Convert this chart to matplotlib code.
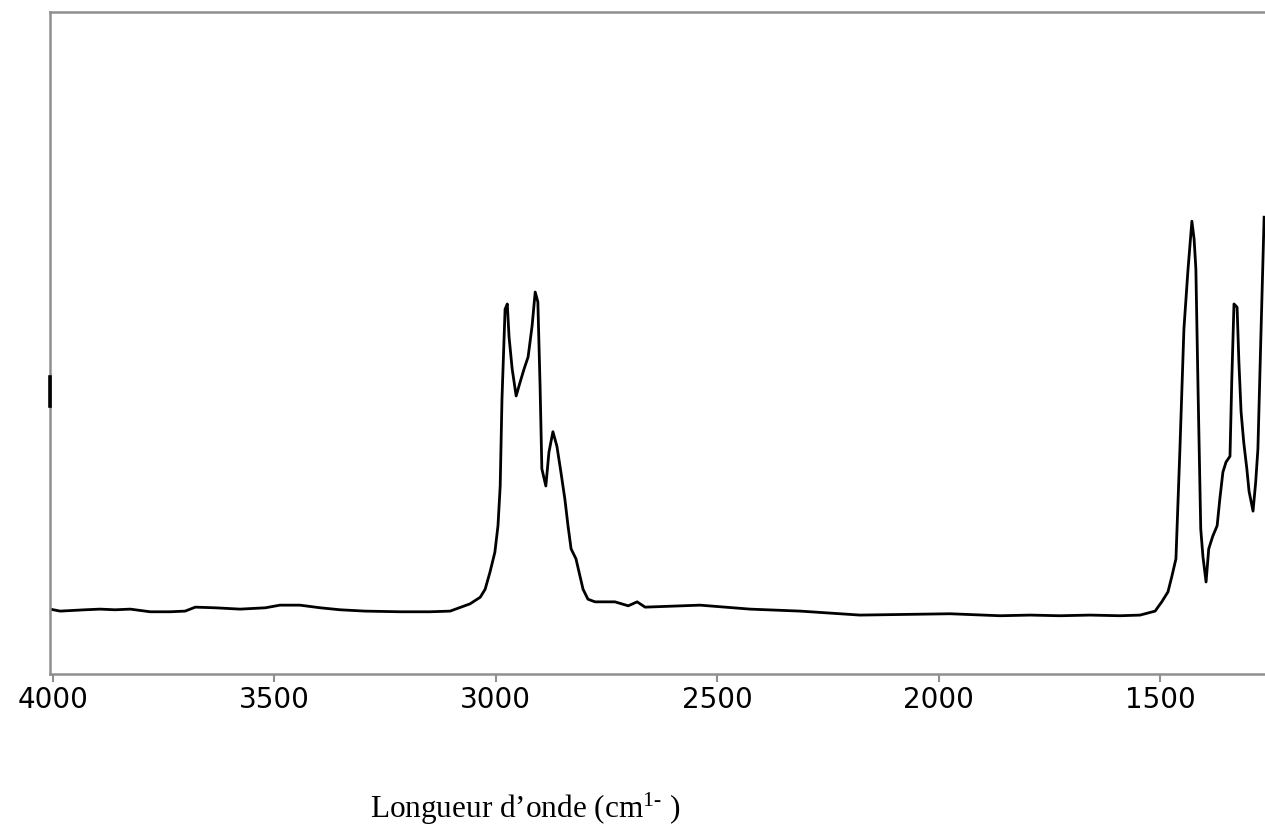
import matplotlib
matplotlib.use("Agg")
import matplotlib.pyplot as plt

plt.rcParams["mathtext.fontset"] = "custom"
plt.rcParams["mathtext.rm"] = "Liberation Serif"
plt.rcParams["mathtext.it"] = "Liberation Serif:italic"

# wavenumber (cm-1) and absorbance (arbitrary units, 0-100)
wavenumber = [4006, 3983, 3927, 3893, 3859, 3825, 3780, 3735, 3701, 3678,
              3633, 3577, 3520, 3487, 3442, 3396, 3351, 3295, 3216, 3148,
              3103, 3058, 3035, 3024, 3013, 3002, 2995, 2990, 2986, 2979,
              2974, 2970, 2963, 2954, 2945, 2936, 2927, 2918, 2911, 2905,
              2900, 2896, 2887, 2880, 2871, 2862, 2853, 2844, 2837, 2830,
              2819, 2810, 2803, 2792, 2776, 2731, 2701, 2681, 2663, 2539,
              2426, 2313, 2178, 1975, 1862, 1794, 1727, 1659, 1591, 1546,
              1512, 1497, 1483, 1474, 1465, 1456, 1447, 1438, 1429, 1424,
              1420, 1415, 1409, 1404, 1397, 1391, 1382, 1372, 1366, 1359,
              1352, 1343, 1339, 1334, 1327, 1323, 1318, 1312, 1305, 1300,
              1291, 1285, 1280, 1273, 1266]
absorbance = [9.8, 9.5, 9.7, 9.8, 9.7, 9.8, 9.4, 9.4, 9.5, 10.1,
              10.0, 9.8, 10.0, 10.4, 10.4, 10.0, 9.7, 9.5, 9.4, 9.4,
              9.5, 10.6, 11.6, 12.8, 15.4, 18.4, 22.4, 28.4, 41.5, 55.1,
              55.9, 50.9, 46.1, 42.0, 44.1, 46.1, 47.9, 52.6, 57.7, 56.2,
              43.5, 31.0, 28.4, 33.5, 36.6, 34.4, 30.5, 26.4, 22.4, 18.9,
              17.4, 14.8, 12.8, 11.3, 10.9, 10.9, 10.3, 10.9, 10.1, 10.4,
              9.8, 9.5, 8.9, 9.1, 8.8, 8.9, 8.8, 8.9, 8.8, 8.9,
              9.5, 10.9, 12.4, 14.8, 17.4, 34.0, 52.1, 60.9, 68.4, 65.7,
              61.2, 42.6, 21.9, 17.7, 13.9, 18.9, 20.8, 22.4, 26.4, 30.5,
              32.0, 32.9, 44.3, 55.9, 55.4, 47.3, 39.6, 35.0, 31.0, 27.6,
              24.6, 29.0, 34.0, 51.7, 69.0]

# short stray segment on the left edge
edge_x = [4005, 4005]
edge_y = [40.5, 44.9]

xticks = [4000, 3500, 3000, 2500, 2000, 1500]

fig = plt.figure(figsize=(12.65, 8.28), dpi=100)
ax = fig.add_axes([50 / 1265, 1 - 675 / 828, 1 - 50 / 1265, (675 - 13) / 828])

ax.plot(wavenumber, absorbance, color="black", lw=2.0)
ax.plot(edge_x, edge_y, color="black", lw=2.6, zorder=5, clip_on=False)

ax.set_xlim(4006, 1264)
ax.set_ylim(0, 100)

grey = "#8f8f8f"
for side in ["left", "bottom", "top"]:
    ax.spines[side].set_color(grey)
    ax.spines[side].set_linewidth(1.8)
ax.spines["right"].set_visible(False)

ax.set_yticks([])
ax.set_xticks(xticks)
ax.set_xticklabels([str(t) for t in xticks])
ax.tick_params(axis="x", direction="out", length=6, width=1.5, color=grey,
               labelsize=20, pad=2, labelcolor="black")

fig.text(370 / 1265, 1 - 818 / 828, "Longueur d\u2019onde (cm$^{1\u2010}$ )",
         family="Liberation Serif", fontsize=22.5, ha="left", va="baseline")

fig.savefig("out.png", dpi=100)
